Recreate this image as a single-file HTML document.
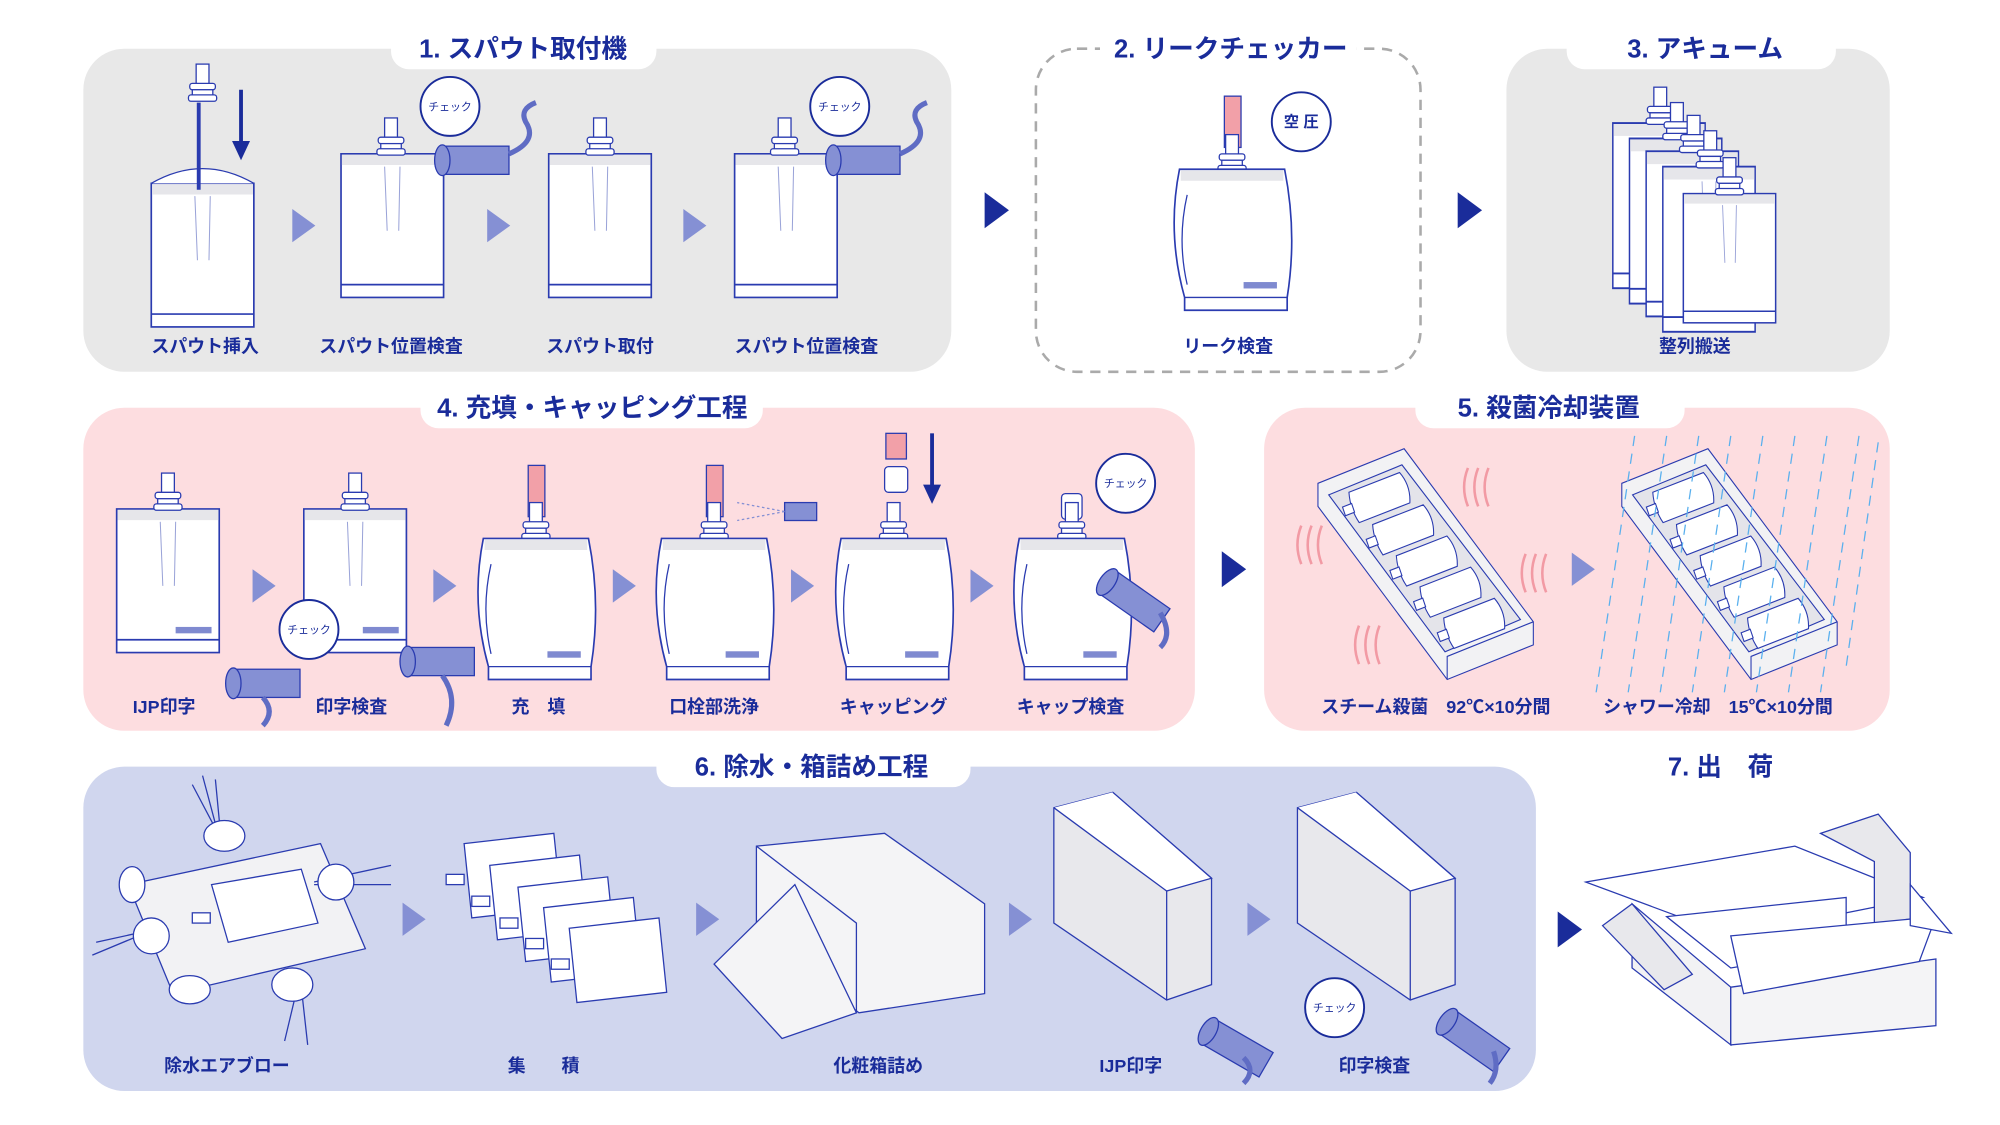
<!DOCTYPE html>
<html><head><meta charset="utf-8"><style>
html,body{margin:0;padding:0;background:#fff}
svg{display:block}
text{font-family:"Liberation Sans","Noto Sans CJK JP",sans-serif;font-weight:bold;fill:#1a2c9a}
.t{font-size:20px}
.l{font-size:14px}
.s{font-size:8.5px;font-weight:normal}
</style></head><body>
<svg width="2000" height="1125" viewBox="0 0 1560 877.5" xmlns="http://www.w3.org/2000/svg">
<defs>
<g id="spout"><rect x="-5" y="-28" width="10" height="16" fill="#fff" stroke="#2a3bb0" stroke-width="1"/><rect x="-10" y="-13" width="20" height="5" rx="2" fill="#fff" stroke="#2a3bb0"/><rect x="-8" y="-8" width="16" height="5" fill="#fff" stroke="#2a3bb0"/><rect x="-11" y="-4" width="22" height="5" rx="2" fill="#fff" stroke="#2a3bb0"/></g>
<g id="flat"><rect x="0" y="0" width="80" height="112" fill="#fff" stroke="#2a3bb0" stroke-width="1.3"/><rect x="0.7" y="0.7" width="78.6" height="8" fill="#e6e6ea"/><line x1="0" y1="102" x2="80" y2="102" stroke="#2a3bb0" stroke-width="1.3"/><path d="M34 10 L36 60 M46 10 L45 60" stroke="#9aa3d8" fill="none" stroke-width="0.8"/></g>
<g id="puff"><path d="M4 0 L86 0 Q96 50 88 100 L88 110 L8 110 L8 100 Q-6 50 4 0Z" fill="#fff" stroke="#2a3bb0" stroke-width="1.3"/><rect x="5" y="1" width="80" height="8" fill="#e6e6ea"/><line x1="8" y1="100" x2="88" y2="100" stroke="#2a3bb0"/><path d="M10 20 Q2 55 10 90" stroke="#2a3bb0" fill="none"/><rect x="54" y="88" width="26" height="5" fill="#7f8ad0"/></g>
<g id="sens"><rect x="0" y="0" width="52" height="22" fill="#8590d4" stroke="#2a3bb0"/><ellipse cx="0" cy="11" rx="6" ry="12" fill="#8590d4" stroke="#2a3bb0"/></g>
<g id="ltri"><path d="M0 0 L18 13 L0 26Z" fill="#8590d4"/></g>
<g id="dtri"><path d="M0 0 L19 14 L0 28Z" fill="#1a2c9a"/></g>
<g id="tp"><path d="M-26 -14 L24 -14 Q30 0 24 14 L-26 14 Q-30 0 -26 -14Z" fill="#fff" stroke="#2a3bb0"/><rect x="-36" y="-4" width="9" height="8" fill="#fff" stroke="#2a3bb0"/></g>
<g id="tray"><path d="M0 30 L80 0 L200 150 L200 170 L120 200 L0 50Z" fill="#f2f2f4" stroke="#2a3bb0"/><path d="M10 40 L78 14 L188 148 L118 176Z" fill="#e4e4ea" stroke="#2a3bb0"/><path d="M120 200 L120 180 L200 150" fill="none" stroke="#2a3bb0"/>
<use href="#tp" transform="translate(58,42) rotate(-20)"/><use href="#tp" transform="translate(80,70) rotate(-20)"/><use href="#tp" transform="translate(102,97) rotate(-20)"/><use href="#tp" transform="translate(124,124) rotate(-20)"/><use href="#tp" transform="translate(146,151) rotate(-20)"/></g>
<g id="pp"><path d="M0 0 L70 -8 L76 50 L6 58Z" fill="#fff" stroke="#2a3bb0"/><rect x="-14" y="24" width="14" height="8" fill="#fff" stroke="#2a3bb0"/></g>
</defs>

<!-- Panel 1 -->
<rect x="65" y="38" width="677" height="252" rx="32" fill="#e8e8e8"/>
<rect x="305" y="24" width="207" height="30" rx="14" fill="#fff"/>
<text class="t" x="408" y="45" text-anchor="middle">1. スパウト取付機</text>
<use href="#flat" x="118" y="143"/>
<path d="M118 143 Q158 120 198 143" fill="#fff" stroke="#2a3bb0"/>
<line x1="155" y1="80" x2="155" y2="148" stroke="#2a3bb0" stroke-width="3"/>
<use href="#spout" x="158" y="78"/>
<line x1="188" y1="70" x2="188" y2="112" stroke="#1a2c9a" stroke-width="3"/><path d="M181 110 L195 110 L188 125Z" fill="#1a2c9a"/>
<use href="#flat" x="266" y="120"/><use href="#spout" x="305" y="120"/>
<use href="#sens" x="345" y="114"/><path d="M397 120 Q420 110 410 95 Q405 85 418 80" stroke="#5f6cc4" stroke-width="4" fill="none"/>
<circle cx="351" cy="83" r="23" fill="#fff" stroke="#1a2c9a" stroke-width="1.5"/><text class="s" x="351" y="86" text-anchor="middle">チェック</text>
<use href="#flat" x="428" y="120"/><use href="#spout" x="468" y="120"/>
<use href="#flat" x="573" y="120"/><use href="#spout" x="612" y="120"/>
<use href="#sens" x="650" y="114"/><path d="M702 120 Q725 110 715 95 Q710 85 723 80" stroke="#5f6cc4" stroke-width="4" fill="none"/>
<circle cx="655" cy="83" r="23" fill="#fff" stroke="#1a2c9a" stroke-width="1.5"/><text class="s" x="655" y="86" text-anchor="middle">チェック</text>
<use href="#ltri" x="228" y="163"/><use href="#ltri" x="380" y="163"/><use href="#ltri" x="533" y="163"/>
<text class="l" x="160" y="275" text-anchor="middle">スパウト挿入</text>
<text class="l" x="305" y="275" text-anchor="middle">スパウト位置検査</text>
<text class="l" x="468" y="275" text-anchor="middle">スパウト取付</text>
<text class="l" x="629" y="275" text-anchor="middle">スパウト位置検査</text>
<use href="#dtri" x="768" y="150"/>

<!-- Panel 2 -->
<rect x="808" y="38" width="300" height="252" rx="32" fill="#fff" stroke="#aaa" stroke-width="2" stroke-dasharray="8 6"/>
<rect x="858" y="24" width="200" height="30" fill="#fff"/>
<text class="t" x="960" y="45" text-anchor="middle">2. リークチェッカー</text>
<rect x="955" y="75" width="13" height="40" fill="#f2a0a8" stroke="#2a3bb0"/>
<use href="#spout" x="961" y="133"/>
<use href="#puff" x="916" y="132"/>
<circle cx="1015" cy="95" r="23" fill="#fff" stroke="#1a2c9a" stroke-width="1.5"/><text class="l" x="1015" y="99" text-anchor="middle" style="font-size:12px">空 圧</text>
<text class="l" x="958" y="275" text-anchor="middle">リーク検査</text>
<use href="#dtri" x="1137" y="150"/>

<!-- Panel 3 -->
<rect x="1175" y="38" width="299" height="252" rx="32" fill="#e8e8e8"/>
<rect x="1222" y="24" width="210" height="30" rx="14" fill="#fff"/>
<text class="t" x="1330" y="45" text-anchor="middle">3. アキューム</text>
<g transform="translate(1258,96) scale(0.9,1.15)"><use href="#flat"/></g>
<g transform="translate(1271,108) scale(0.9,1.15)"><use href="#flat"/></g>
<g transform="translate(1284,118) scale(0.9,1.15)"><use href="#flat"/></g>
<g transform="translate(1297,130) scale(0.9,1.15)"><use href="#flat"/></g>
<g transform="translate(1313,151) scale(0.9,0.9)"><use href="#flat"/></g>
<use href="#spout" x="1295" y="96"/><use href="#spout" x="1308" y="108"/><use href="#spout" x="1321" y="118"/><use href="#spout" x="1334" y="130"/><use href="#spout" x="1349" y="151"/>
<text class="l" x="1322" y="275" text-anchor="middle">整列搬送</text>

<!-- Panel 4 -->
<rect x="65" y="318" width="867" height="252" rx="32" fill="#fddde0"/>
<rect x="328" y="304" width="267" height="30" rx="14" fill="#fff"/>
<text class="t" x="462" y="325" text-anchor="middle">4. 充填・キャッピング工程</text>
<use href="#flat" x="91" y="397"/><use href="#spout" x="131" y="397"/><rect x="137" y="489" width="28" height="5" fill="#7f8ad0"/>
<use href="#sens" x="182" y="522"/><path d="M205 544 Q215 555 205 566" stroke="#5f6cc4" stroke-width="4" fill="none"/>
<use href="#flat" x="237" y="397"/><use href="#spout" x="277" y="397"/><rect x="283" y="489" width="28" height="5" fill="#7f8ad0"/>
<use href="#sens" x="318" y="505"/><path d="M345 527 Q358 545 348 566" stroke="#5f6cc4" stroke-width="4" fill="none"/>
<circle cx="241" cy="491" r="23" fill="#fff" stroke="#1a2c9a" stroke-width="1.5"/><text class="s" x="241" y="494" text-anchor="middle">チェック</text>
<rect x="412" y="363" width="13" height="40" fill="#f2a0a8" stroke="#2a3bb0"/><use href="#spout" x="418" y="420"/><use href="#puff" x="373" y="420"/>
<rect x="551" y="363" width="13" height="40" fill="#f2a0a8" stroke="#2a3bb0"/><use href="#spout" x="557" y="420"/><use href="#puff" x="512" y="420"/>
<rect x="612" y="392" width="25" height="14" fill="#8590d4" stroke="#2a3bb0"/><path d="M612 399 L575 392 M612 399 L575 406" stroke="#8590d4" stroke-dasharray="2 2"/>
<rect x="691" y="338" width="16" height="20" fill="#f2a0a8" stroke="#2a3bb0"/><rect x="690" y="364" width="18" height="20" rx="3" fill="#fff" stroke="#2a3bb0"/>
<line x1="727" y1="338" x2="727" y2="380" stroke="#1a2c9a" stroke-width="3"/><path d="M720 378 L734 378 L727 393Z" fill="#1a2c9a"/>
<use href="#spout" x="697" y="420"/><use href="#puff" x="652" y="420"/>
<rect x="828" y="385" width="16" height="20" rx="3" fill="#fff" stroke="#2a3bb0"/><use href="#spout" x="836" y="420"/><use href="#puff" x="791" y="420"/>
<g transform="translate(870,445) rotate(35)"><use href="#sens"/></g><path d="M905 478 Q915 495 905 505" stroke="#5f6cc4" stroke-width="4" fill="none"/>
<circle cx="878" cy="377" r="23" fill="#fff" stroke="#1a2c9a" stroke-width="1.5"/><text class="s" x="878" y="380" text-anchor="middle">チェック</text>
<use href="#ltri" x="197" y="444"/><use href="#ltri" x="338" y="444"/><use href="#ltri" x="478" y="444"/><use href="#ltri" x="617" y="444"/><use href="#ltri" x="757" y="444"/>
<text class="l" x="128" y="556" text-anchor="middle">IJP印字</text>
<text class="l" x="274" y="556" text-anchor="middle">印字検査</text>
<text class="l" x="420" y="556" text-anchor="middle">充　填</text>
<text class="l" x="557" y="556" text-anchor="middle">口栓部洗浄</text>
<text class="l" x="697" y="556" text-anchor="middle">キャッピング</text>
<text class="l" x="835" y="556" text-anchor="middle">キャップ検査</text>
<use href="#dtri" x="953" y="430"/>

<!-- Panel 5 -->
<rect x="986" y="318" width="488" height="252" rx="32" fill="#fddde0"/>
<rect x="1104" y="304" width="210" height="30" rx="14" fill="#fff"/>
<text class="t" x="1208" y="325" text-anchor="middle">5. 殺菌冷却装置</text>
<g transform="translate(1028,350) scale(0.84,0.9)"><use href="#tray"/></g>
<g transform="translate(1265,350) scale(0.84,0.9)"><use href="#tray"/></g>
<g stroke="#f29aa4" stroke-width="2" fill="none">
<path d="M1015 410 q-6 15 0 30 M1023 410 q-6 15 0 30 M1031 410 q-6 15 0 30"/>
<path d="M1145 365 q-6 15 0 30 M1153 365 q-6 15 0 30 M1161 365 q-6 15 0 30"/>
<path d="M1190 432 q-6 15 0 30 M1198 432 q-6 15 0 30 M1206 432 q-6 15 0 30"/>
<path d="M1060 488 q-6 15 0 30 M1068 488 q-6 15 0 30 M1076 488 q-6 15 0 30"/>
</g>
<g stroke="#5ab0ee" stroke-width="1" stroke-dasharray="8 6">
<path d="M1275 340 L1245 540 M1300 340 L1270 540 M1325 340 L1295 540 M1350 340 L1320 540 M1375 340 L1345 540 M1400 340 L1370 540 M1425 340 L1395 540 M1450 340 L1420 540 M1465 345 L1440 520"/>
</g>
<use href="#ltri" x="1226" y="431"/>
<text class="l" x="1120" y="556" text-anchor="middle">スチーム殺菌　92℃×10分間</text>
<text class="l" x="1340" y="556" text-anchor="middle">シャワー冷却　15℃×10分間</text>

<!-- Panel 6 -->
<rect x="65" y="598" width="1133" height="253" rx="32" fill="#d0d6ee"/>
<rect x="512" y="584" width="245" height="30" rx="14" fill="#fff"/>
<text class="t" x="633" y="605" text-anchor="middle">6. 除水・箱詰め工程</text>
<path d="M100 690 L250 658 L285 740 L135 775Z" fill="#f2f2f4" stroke="#2a3bb0"/>
<ellipse cx="148" cy="772" rx="16" ry="11" fill="#fff" stroke="#2a3bb0"/>
<ellipse cx="103" cy="690" rx="10" ry="14" fill="#fff" stroke="#2a3bb0"/>
<path d="M165 690 L235 678 L248 720 L178 735Z" fill="#fff" stroke="#2a3bb0"/><rect x="150" y="712" width="14" height="8" fill="#fff" stroke="#2a3bb0"/>
<g stroke="#2a3bb0" fill="none"><path d="M158 605 L170 650 M150 612 L170 650 M168 608 L172 650 M72 745 L120 725 M75 735 L120 725 M245 688 L305 675 M245 690 L305 690 M235 770 L240 815 M232 770 L222 812"/></g>
<g fill="#fff" stroke="#2a3bb0"><ellipse cx="175" cy="652" rx="16" ry="12"/><ellipse cx="118" cy="730" rx="14" ry="14"/><ellipse cx="262" cy="688" rx="14" ry="14"/><ellipse cx="228" cy="768" rx="16" ry="13"/></g>
<use href="#pp" x="362" y="658"/><use href="#pp" x="382" y="675"/><use href="#pp" x="404" y="692"/><use href="#pp" x="424" y="708"/><use href="#pp" x="444" y="724"/>
<path d="M590 660 L690 650 L768 705 L768 775 L670 790 L590 730Z" fill="#f4f4f6" stroke="#2a3bb0"/>
<path d="M590 660 L668 720 L668 790" fill="none" stroke="#2a3bb0"/>
<path d="M557 752 L620 690 L668 790 L610 810Z" fill="#f4f4f6" stroke="#2a3bb0"/>
<path d="M822 630 L868 618 L945 685 L945 768 L910 780 L822 720Z" fill="#e8e8ec" stroke="#2a3bb0"/><path d="M868 618 L945 685 L910 695 L822 630" fill="#fff" stroke="#2a3bb0"/><path d="M910 695 L910 780" stroke="#2a3bb0"/>
<path d="M1012 630 L1058 618 L1135 685 L1135 768 L1100 780 L1012 720Z" fill="#e8e8ec" stroke="#2a3bb0"/><path d="M1058 618 L1135 685 L1100 695 L1012 630" fill="#fff" stroke="#2a3bb0"/><path d="M1100 695 L1100 780" stroke="#2a3bb0"/>
<g transform="translate(948,795) rotate(30)"><use href="#sens"/></g><path d="M970 825 Q980 835 970 845" stroke="#5f6cc4" stroke-width="4" fill="none"/>
<g transform="translate(1135,788) rotate(35)"><use href="#sens"/></g><path d="M1165 820 Q1170 835 1162 845" stroke="#5f6cc4" stroke-width="4" fill="none"/>
<circle cx="1041" cy="786" r="23" fill="#fff" stroke="#1a2c9a" stroke-width="1.5"/><text class="s" x="1041" y="789" text-anchor="middle">チェック</text>
<use href="#ltri" x="314" y="704"/><use href="#ltri" x="543" y="704"/><use href="#ltri" x="787" y="704"/><use href="#ltri" x="973" y="704"/>
<text class="l" x="177" y="836" text-anchor="middle">除水エアブロー</text>
<text class="l" x="424" y="836" text-anchor="middle">集　　積</text>
<text class="l" x="685" y="836" text-anchor="middle">化粧箱詰め</text>
<text class="l" x="882" y="836" text-anchor="middle">IJP印字</text>
<text class="l" x="1072" y="836" text-anchor="middle">印字検査</text>

<!-- 7 -->
<text class="t" x="1342" y="605" text-anchor="middle">7. 出　荷</text>
<use href="#dtri" x="1215" y="711"/>
<path d="M1273 705 L1350 770 L1350 815 L1273 755Z" fill="#f2f2f4" stroke="#2a3bb0"/>
<path d="M1350 770 L1510 748 L1510 800 L1350 815Z" fill="#f4f4f6" stroke="#2a3bb0"/>
<path d="M1237 688 L1400 660 L1500 700 L1350 730Z" fill="#fff" stroke="#2a3bb0"/>
<path d="M1300 715 L1440 700 L1440 740 L1350 755Z" fill="#fff" stroke="#2a3bb0"/>
<path d="M1420 650 L1465 635 L1490 665 L1490 720 L1462 728 L1462 672Z" fill="#e8e8ec" stroke="#2a3bb0"/>
<path d="M1350 730 L1510 715 L1497 750 L1360 775Z" fill="#fff" stroke="#2a3bb0"/>
<path d="M1250 722 L1273 705 L1320 760 L1298 772Z" fill="#e8e8ec" stroke="#2a3bb0"/>
<path d="M1490 690 L1522 728 L1490 722Z" fill="#fff" stroke="#2a3bb0"/>
</svg>
</body></html>
